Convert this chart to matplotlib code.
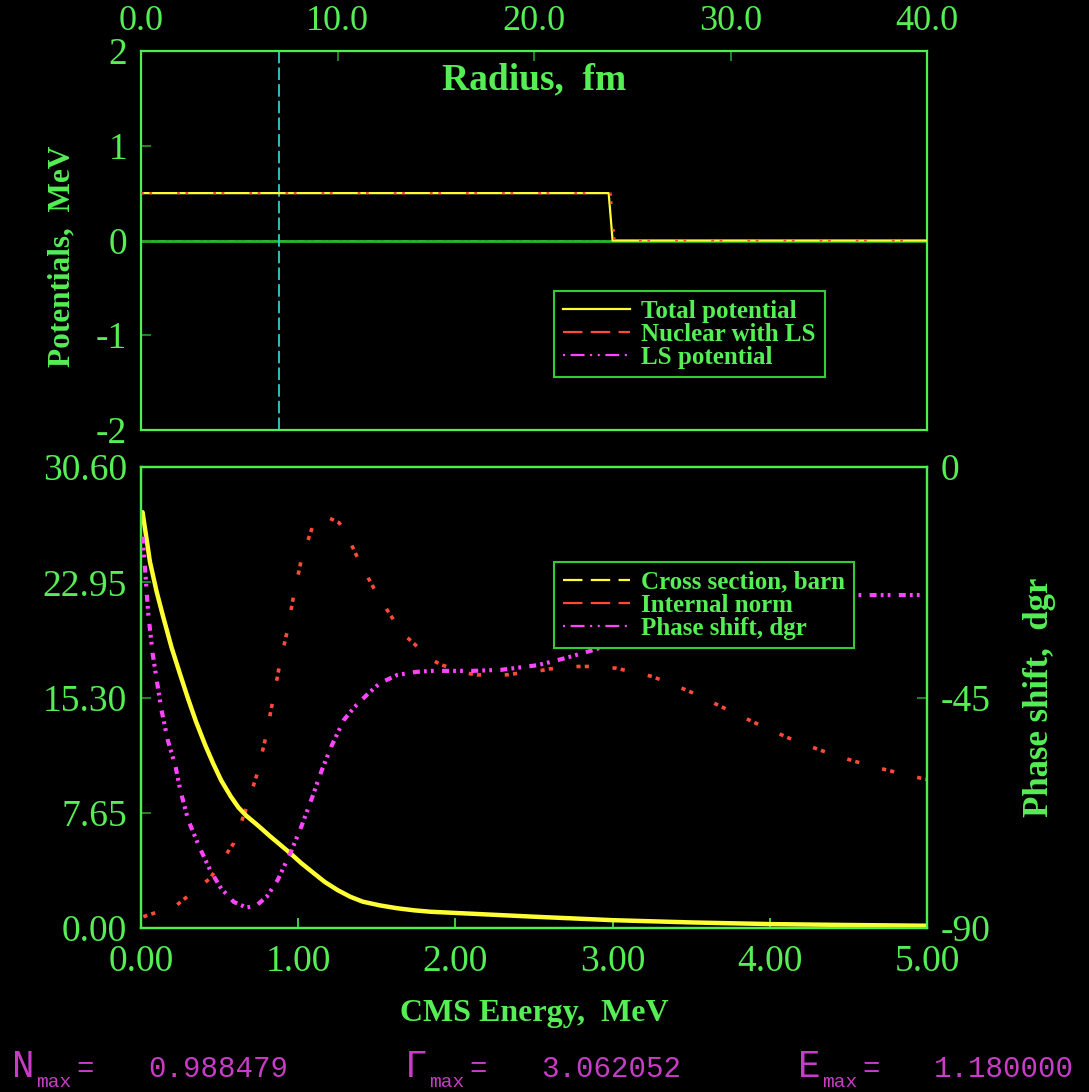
import matplotlib
matplotlib.use("Agg")
import matplotlib.pyplot as plt
from matplotlib.lines import Line2D

# ---- data ----
# top panel: potentials vs radius (fm)
r_total = [0.0, 23.8, 24.0, 40.0]
v_total = [0.5, 0.5, 0.0, 0.0]
r_nucl = [0.0, 23.9, 24.1, 40.0]
v_nucl = [0.5, 0.5, 0.0, 0.0]
r_ls = [0.0, 40.0]
v_ls = [0.0, 0.0]
r_cut = 7.0

# bottom panel: cross section (barn) vs CMS energy (MeV)
e_cs = [0.01, 0.057, 0.10, 0.14, 0.195, 0.25, 0.30, 0.35, 0.41, 0.46, 0.51, 0.57,
        0.62, 0.67, 0.75, 0.82, 0.95, 1.02, 1.10, 1.17, 1.25, 1.33, 1.41, 1.52,
        1.63, 1.74, 1.84, 2.0, 2.5, 3.0, 3.5, 4.0, 4.5, 5.0]
cs = [27.6, 24.3, 22.3, 20.7, 18.6, 16.8, 15.2, 13.7, 12.1, 10.9, 9.8, 8.75,
      8.0, 7.45, 6.75, 6.1, 4.96, 4.3, 3.63, 3.05, 2.52, 2.08, 1.75, 1.5,
      1.31, 1.17, 1.08, 1.0, 0.75, 0.52, 0.37, 0.26, 0.2, 0.15]

# internal norm (drawn on the left scale)
e_norm = [0.015, 0.22, 0.44, 0.59, 0.67, 0.74, 0.79, 0.84, 0.88, 0.93, 0.97, 1.02,
          1.10, 1.18, 1.26, 1.30, 1.39, 1.51, 1.66, 1.85, 1.91, 2.08, 2.14, 2.32,
          2.55, 2.60, 2.78, 2.84, 3.02, 3.25, 3.30, 3.48, 3.71, 3.94, 4.17, 4.41,
          4.64, 4.87, 5.0]
norm = [0.75, 1.46, 3.3, 5.63, 7.95, 10.28, 12.5, 15.15, 17.36, 19.7, 22.0, 24.45,
        26.9, 27.3, 26.9, 26.3, 24.3, 22.0, 19.6, 17.8, 17.47, 16.9, 16.8, 16.8,
        17.1, 17.2, 17.36, 17.36, 17.25, 16.7, 16.5, 15.75, 14.6, 13.45, 12.38, 11.47,
        10.76, 10.16, 9.85]

# phase shift (degrees, right scale)
e_phase = [0.01, 0.025, 0.046, 0.074, 0.10, 0.13, 0.17, 0.22, 0.25, 0.30, 0.37, 0.44,
           0.51, 0.59, 0.67, 0.73, 0.80, 0.87, 0.95, 1.02, 1.09, 1.15, 1.21, 1.29,
           1.36, 1.45, 1.52, 1.63, 1.75, 1.85, 2.0, 2.11, 2.29, 2.42, 2.52, 2.60,
           2.70, 2.78, 2.88, 3.0, 3.2, 3.5, 3.8, 4.1, 4.4, 4.55, 4.8, 5.0]
phase = [-13.6, -19.5, -28.6, -36.4, -41.6, -47.4, -53.3, -58.5, -63.1, -68.9, -74.1, -78.7,
         -82.3, -84.9, -86.0, -85.7, -83.9, -80.6, -75.4, -70.2, -64.4, -59.2, -54.6, -49.4,
         -46.8, -44.1, -42.2, -40.6, -40.0, -39.8, -39.8, -39.8, -39.6, -39.1, -38.7, -38.1,
         -37.3, -36.6, -35.7, -34.5, -32.0, -29.0, -27.0, -25.8, -25.2, -25.0, -25.0, -25.0]

top_xticks = [0, 10, 20, 30, 40]
top_xlabels = ["0.0", "10.0", "20.0", "30.0", "40.0"]
top_yticks = [-2, -1, 0, 1, 2]
top_ylabels = ["-2", "-1", "0", "1", "2"]
bot_xticks = [0, 1, 2, 3, 4, 5]
bot_xlabels = ["0.00", "1.00", "2.00", "3.00", "4.00", "5.00"]
bot_yticks = [0, 7.65, 15.30, 22.95, 30.60]
bot_ylabels = ["0.00", "7.65", "15.30", "22.95", "30.60"]
ph_ticks = [-90, -45, 0]
ph_labels = ["-90", "-45", "0"]

info_names = ["N", "\u0393", "E"]
info_values = ["0.988479", "3.062052", "1.180000"]

# ---- style ----
plt.rcParams['font.family'] = ['Liberation Serif', 'DejaVu Serif']
plt.rcParams['lines.scale_dashes'] = False

TXT = '#55ee55'
SPINE = '#4cf04c'
TICK = '#2a9a2a'
YEL = '#ffff33'
RED = '#ff4a3a'
MAG = '#ff44ff'
INFO = '#c83cc8'
MONO = ['Liberation Mono', 'DejaVu Sans Mono']

W, H = 1089, 1092
fig = plt.figure(figsize=(W / 100, H / 100), dpi=100, facecolor='black')


def style_axes(ax):
    ax.set_facecolor('black')
    for s in ax.spines.values():
        s.set_color(SPINE)
        s.set_linewidth(1.6)
    ax.tick_params(direction='in', length=7, width=1.2, colors=TICK,
                   labelcolor=TXT, labelsize=27, pad=10)


# top panel
ax1 = fig.add_axes([141 / W, 1 - 430 / H, 786 / W, 379 / H])
style_axes(ax1)
ax1.plot(r_ls, v_ls, color=MAG, lw=1.2, dashes=(5, 3, 1.5, 3), zorder=0.5)
ax1.axhline(0, color='#22bb22', lw=2, zorder=1)
ax1.axvline(r_cut, color='#33cccc', lw=1.3, dashes=(9, 3), zorder=1)
ax1.plot(r_total, v_total, color=YEL, lw=1.6, zorder=3)
ax1.plot(r_nucl, v_nucl, color=RED, lw=1.6, dashes=(2, 4, 2, 18), zorder=4)
ax1.set_xlim(0, 40)
ax1.set_ylim(-2, 2)
ax1.xaxis.tick_top()
ax1.set_xticks(top_xticks)
ax1.set_xticklabels(top_xlabels)
ax1.set_yticks(top_yticks)
ax1.set_yticklabels(top_ylabels)
ax1.tick_params(axis='x', pad=9, labelsize=26)
ax1.text(0.5, 0.923, "Radius,  fm", transform=ax1.transAxes, ha='center', va='center',
         color=TXT, fontsize=27, fontweight='bold')

leg_kw = dict(loc='upper left', borderaxespad=0, prop={'size': 18, 'weight': 'bold'},
              labelcolor=TXT, frameon=True, fancybox=False, facecolor='black',
              edgecolor='#33cc33', framealpha=1, handlelength=2.7, handletextpad=0.45,
              labelspacing=0.0, borderpad=0.35)

h_top = [Line2D([], [], color=YEL, lw=1.6),
         Line2D([], [], color=RED, lw=1.6, dashes=(14, 6)),
         Line2D([], [], color=MAG, lw=1.6, dashes=(1.5, 4, 10, 4, 1.5, 4))]
leg1 = ax1.legend(h_top, ["Total potential", "Nuclear with LS", "LS potential"],
                  bbox_to_anchor=(0.5254, 0.3668), **leg_kw)
leg1.get_frame().set_linewidth(1.5)

# bottom panel
ax2 = fig.add_axes([141 / W, 1 - 928 / H, 786 / W, 461 / H])
style_axes(ax2)
ax2.plot(e_norm, norm, color=RED, lw=2.6, dashes=(3, 3, 3, 17), zorder=3)
ax2.plot(e_cs, cs, color=YEL, lw=3.2, zorder=4, solid_capstyle='round',
         solid_joinstyle='round')
ax2.set_xlim(0, 5)
ax2.set_ylim(0, 30.6)
ax2.set_xticks(bot_xticks)
ax2.set_xticklabels(bot_xlabels)
ax2.set_yticks(bot_yticks)
ax2.set_yticklabels(bot_ylabels)
ax2.tick_params(axis='x', colors=SPINE, labelcolor=TXT, pad=12)

ax3 = ax2.twinx()
style_axes(ax3)
ax3.set_facecolor('none')
ax3.plot(e_phase, phase, color=MAG, lw=3.0, dashes=(5, 3, 2, 3, 2, 6), zorder=3)
ax3.set_ylim(-90, 0)
ax3.set_yticks(ph_ticks)
ax3.set_yticklabels(ph_labels)

h_bot = [Line2D([], [], color=YEL, lw=1.6, dashes=(14, 6)),
         Line2D([], [], color=RED, lw=1.6, dashes=(14, 6)),
         Line2D([], [], color=MAG, lw=1.6, dashes=(1.5, 4, 10, 4, 1.5, 4))]
leg2 = ax3.legend(h_bot, ["Cross section, barn", "Internal norm", "Phase shift, dgr"],
                  bbox_to_anchor=(0.5254, 0.794), **leg_kw)
leg2.get_frame().set_linewidth(1.5)
leg2.set_zorder(10)

# axis titles
fig.text(62 / W, 1 - 256 / H, "Potentials,  MeV", rotation=90, ha='center', va='center',
         color=TXT, fontsize=22.5, fontweight='bold')
fig.text(1040 / W, 1 - 697 / H, "Phase shift,  dgr", rotation=90, ha='center', va='center',
         color=TXT, fontsize=25, fontweight='bold')
fig.text(534 / W, 1 - 1013 / H, "CMS Energy,  MeV", ha='center', va='center',
         color=TXT, fontsize=23, fontweight='bold')

# resonance info line
for i, (name, val) in enumerate(zip(info_names, info_values)):
    x0 = 12 + 393 * i
    fig.text(x0 / W, 1 - 1077 / H, name, ha='left', va='baseline', color=INFO,
             fontsize=27, family=MONO)
    fig.text((x0 + 24) / W, 1 - 1091 / H, "max", ha='left', va='bottom', color=INFO,
             fontsize=14, family=MONO)
    fig.text((x0 + 64) / W, 1 - 1077 / H, "=", ha='left', va='baseline', color=INFO,
             fontsize=21, family=MONO)
    fig.text((x0 + 136) / W, 1 - 1077 / H, val, ha='left', va='baseline', color=INFO,
             fontsize=21, family=MONO)

fig.savefig("out.png", dpi=100, facecolor='black')
